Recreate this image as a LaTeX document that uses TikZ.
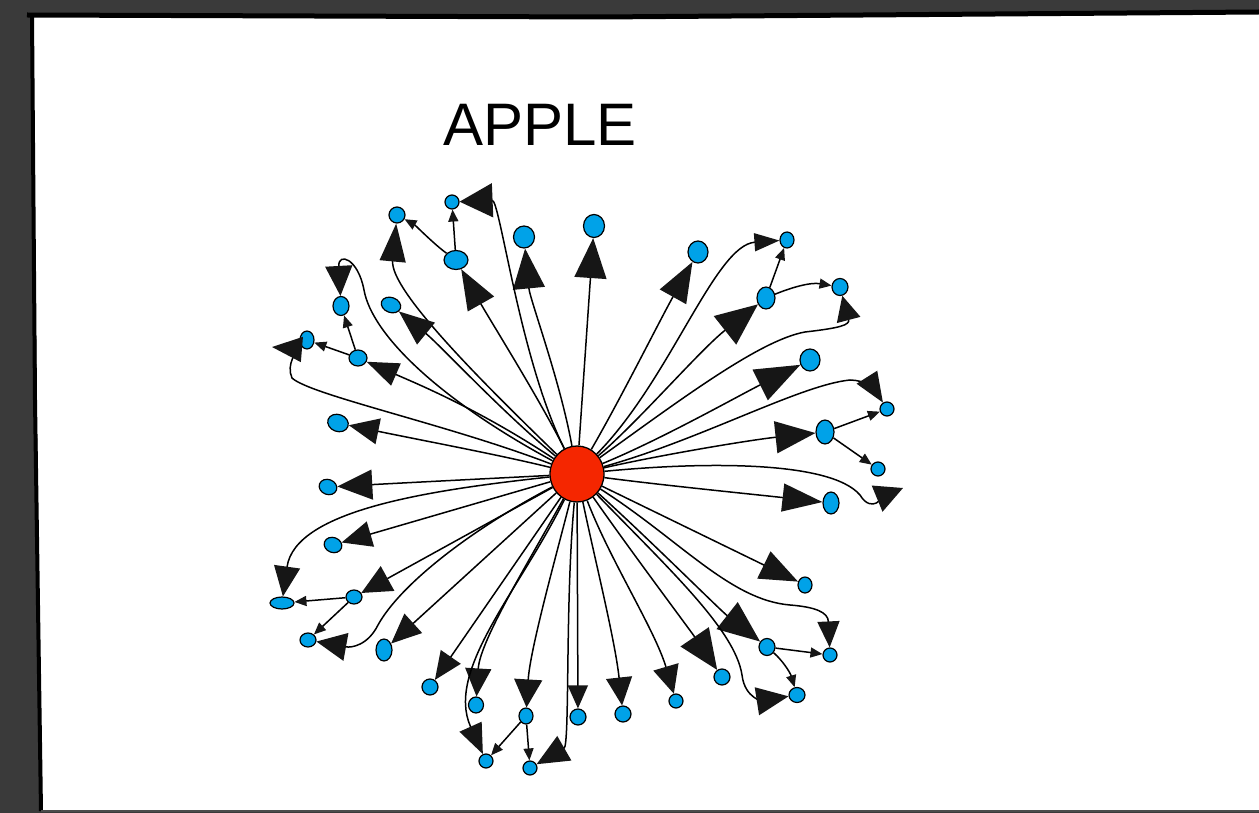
\documentclass[tikz,border=0pt]{standalone}
\usepackage{fontspec}
\setmainfont{Liberation Sans}
\usetikzlibrary{arrows.meta,shapes.geometric}
\definecolor{bg}{RGB}{58,58,58}
\definecolor{leafblue}{RGB}{0,162,232}
\definecolor{hubred}{RGB}{245,38,0}
\definecolor{ink}{RGB}{22,22,22}
\begin{document}
\begin{tikzpicture}[x=1pt,y=-1pt,
  leaf/.style={ellipse,draw=black,line width=1.2pt,fill=leafblue,inner sep=0pt},
  hub/.style={ellipse,draw=black,line width=1.3pt,fill=hubred,inner sep=0pt,minimum width=54pt,minimum height=56pt},
  wire/.style={draw=black,line width=1.5pt},
  arr/.style 2 args={wire,-{Triangle[length=#1pt,width=#2pt,color=ink]}},
  tinyarr/.style={wire,-{Triangle[length=12pt,width=10pt,color=ink]}}
]
\useasboundingbox (0,0) rectangle (1259,813);
% frame
\fill[bg] (0,0) rectangle (1259,813);
\fill[white] (33,17) -- (1259,14) -- (1259,811) -- (41,810) -- cycle;
\draw[black,line width=5pt] (27,15) -- (600,17) -- (1259,12);
\draw[black,line width=4pt] (32,14) -- (35,400) -- (41,811);
\draw[black!70,line width=1.5pt] (41,811) -- (1259,811);
% title
\node[anchor=base,font=\fontsize{60}{60}\selectfont] (title) at (540,146) {APPLE};
% hub
\node[hub] (C) at (577,474) {};
% leaves
\node[leaf,minimum width=21pt,minimum height=23pt] (L1) at (594,226) {};
\node[leaf,minimum width=21pt,minimum height=22pt] (L2) at (524,237) {};
\node[leaf,minimum width=24pt,minimum height=19pt] (L3) at (456,260) {};
\node[leaf,minimum width=14pt,minimum height=14pt] (L4) at (452,202) {};
\node[leaf,minimum width=16pt,minimum height=16pt] (L5) at (397,215) {};
\node[leaf,minimum width=16pt,minimum height=19pt] (L6) at (341,306) {};
\node[leaf,minimum width=18pt,minimum height=16pt] (L7) at (358,358) {};
\node[leaf,minimum width=20pt,minimum height=15pt,rotate=-20] (L8) at (391,305) {};
\node[leaf,minimum width=14pt,minimum height=18pt] (L9) at (307,340) {};
\node[leaf,minimum width=21pt,minimum height=17pt,rotate=-20] (L10) at (338,423) {};
\node[leaf,minimum width=18pt,minimum height=15pt,rotate=-20] (L11) at (328,487) {};
\node[leaf,minimum width=18pt,minimum height=15pt,rotate=-20] (L12) at (333,545) {};
\node[leaf,minimum width=24pt,minimum height=12pt] (L13) at (282,603) {};
\node[leaf,minimum width=16pt,minimum height=14pt] (L14) at (354,597) {};
\node[leaf,minimum width=16pt,minimum height=14pt] (L15) at (308,640) {};
\node[leaf,minimum width=16pt,minimum height=22pt] (L16) at (384,650) {};
\node[leaf,minimum width=16pt,minimum height=16pt] (L17) at (430,687) {};
\node[leaf,minimum width=15pt,minimum height=16pt] (L18) at (476,705) {};
\node[leaf,minimum width=14pt,minimum height=16pt] (L19) at (526,716) {};
\node[leaf,minimum width=16pt,minimum height=16pt] (L20) at (578,717) {};
\node[leaf,minimum width=16pt,minimum height=16pt] (L21) at (623,714) {};
\node[leaf,minimum width=14pt,minimum height=14pt] (L22) at (676,701) {};
\node[leaf,minimum width=16pt,minimum height=16pt] (L23) at (722,677) {};
\node[leaf,minimum width=16pt,minimum height=17pt] (L24) at (767,647) {};
\node[leaf,minimum width=14pt,minimum height=14pt] (L25) at (830,655) {};
\node[leaf,minimum width=16pt,minimum height=15pt] (L26) at (797,695) {};
\node[leaf,minimum width=14pt,minimum height=16pt] (L27) at (805,585) {};
\node[leaf,minimum width=16pt,minimum height=22pt] (L28) at (831,503) {};
\node[leaf,minimum width=14pt,minimum height=14pt] (L29) at (878,469) {};
\node[leaf,minimum width=18pt,minimum height=24pt] (L30) at (825,432) {};
\node[leaf,minimum width=14pt,minimum height=14pt] (L31) at (887,409) {};
\node[leaf,minimum width=20pt,minimum height=22pt] (L32) at (810,360) {};
\node[leaf,minimum width=16pt,minimum height=17pt] (L33) at (840,287) {};
\node[leaf,minimum width=18pt,minimum height=22pt] (L34) at (766,298) {};
\node[leaf,minimum width=14pt,minimum height=16pt] (L35) at (787,240) {};
\node[leaf,minimum width=20pt,minimum height=22pt] (L36) at (698,252) {};
\node[leaf,minimum width=14pt,minimum height=14pt] (L37) at (486,761) {};
\node[leaf,minimum width=14pt,minimum height=14pt] (L38) at (530,768) {};
\coordinate (t9) at (272,347);
\coordinate (t29) at (903,488);
% hub edges
\draw[arr={40}{32}] (C) -- (L1);
\draw[arr={40}{32}] (C) .. controls (560,380) and (530,300) .. (L2);
\draw[arr={40}{30}] (C) .. controls (540,400) and (490,320) .. (L3);
\draw[arr={33}{34}] (C) .. controls (520,360) and (500,200) .. (L4);
\draw[arr={38}{26}] (C) .. controls (480,380) and (390,290) .. (L5);
\draw[arr={30}{27}] (C) .. controls (440,400) and (372,335) .. (364,290) .. controls (358,258) and (338,252) .. (L6);
\draw[arr={32}{24}] (C) .. controls (480,410) and (420,385) .. (L7);
\draw[arr={35}{28}] (C) .. controls (500,410) and (440,345) .. (L8);
\draw[arr={30}{25}] (C) .. controls (450,425) and (310,395) .. (292,378) .. controls (286,365) and (296,349) .. (t9);
\draw[arr={30}{26}] (C) .. controls (500,455) and (420,440) .. (L10);
\draw[arr={35}{30}] (C) .. controls (500,478) and (420,482) .. (L11);
\draw[arr={30}{26}] (C) -- (L12);
\draw[arr={30}{26}] (C) .. controls (430,490) and (295,510) .. (L13);
\draw[arr={30}{28}] (C) -- (L14);
\draw[arr={30}{28}] (C) .. controls (470,530) and (400,585) .. (378,625) .. controls (368,645) and (352,648) .. (L15);
\draw[arr={30}{26}] (C) -- (L16);
\draw[arr={28}{24}] (C) -- (L17);
\draw[arr={28}{26}] (C) .. controls (530,560) and (480,640) .. (L18);
\draw[arr={28}{28}] (C) .. controls (555,560) and (530,650) .. (L19);
\draw[arr={23}{20}] (C) -- (L20);
\draw[arr={28}{26}] (C) .. controls (595,560) and (615,640) .. (L21);
\draw[arr={28}{26}] (C) .. controls (610,560) and (655,630) .. (L22);
\draw[arr={40}{34}] (C) .. controls (630,550) and (690,630) .. (L23);
\draw[arr={42}{34}] (C) .. controls (650,540) and (720,610) .. (L24);
\draw[arr={26}{22}] (C) .. controls (680,540) and (730,600) .. (790,605) .. controls (815,607) and (828,612) .. (L25);
\draw[arr={32}{28}] (C) .. controls (670,570) and (735,630) .. (742,675) .. controls (745,700) and (765,700) .. (L26);
\draw[arr={38}{30}] (C) -- (L27);
\draw[arr={40}{28}] (C) .. controls (660,485) and (760,495) .. (L28);
\draw[arr={28}{28}] (C) .. controls (700,462) and (830,460) .. (860,495) .. controls (872,515) and (886,495) .. (t29);
\draw[arr={40}{32}] (C) .. controls (660,455) and (750,440) .. (L30);
\draw[arr={30}{24}] (C) .. controls (700,440) and (800,385) .. (850,380) .. controls (865,380) and (875,390) .. (L31);
\draw[arr={45}{34}] (C) .. controls (660,440) and (740,395) .. (L32);
\draw[arr={25}{24}] (C) .. controls (680,400) and (760,340) .. (805,332) .. controls (840,328) and (850,325) .. (L33);
\draw[arr={42}{36}] (C) .. controls (640,420) and (700,350) .. (L34);
\draw[arr={25}{18}] (C) .. controls (670,380) and (715,245) .. (L35);
\draw[arr={40}{30}] (C) .. controls (620,400) and (660,320) .. (L36);
\draw[arr={30}{24}] (C) .. controls (520,590) and (445,670) .. (L37);
\draw[arr={32}{28}] (C) .. controls (565,600) and (570,745) .. (L38);
% leaf-to-leaf edges
\draw[tinyarr] (L3) -- (L4);
\draw[tinyarr] (L3) .. controls (435,245) and (415,225) .. (L5);
\draw[tinyarr] (L7) -- (L6);
\draw[tinyarr] (L7) -- (L9);
\draw[tinyarr] (L14) -- (L13);
\draw[tinyarr] (L14) -- (L15);
\draw[tinyarr] (L19) -- (L37);
\draw[tinyarr] (L19) -- (L38);
\draw[tinyarr] (L24) -- (L25);
\draw[tinyarr] (L24) .. controls (782,660) and (790,672) .. (L26);
\draw[tinyarr] (L30) -- (L29);
\draw[tinyarr] (L30) -- (L31);
\draw[tinyarr] (L34) .. controls (790,288) and (810,282) .. (L33);
\draw[tinyarr] (L34) -- (L35);
\end{tikzpicture}
\end{document}
